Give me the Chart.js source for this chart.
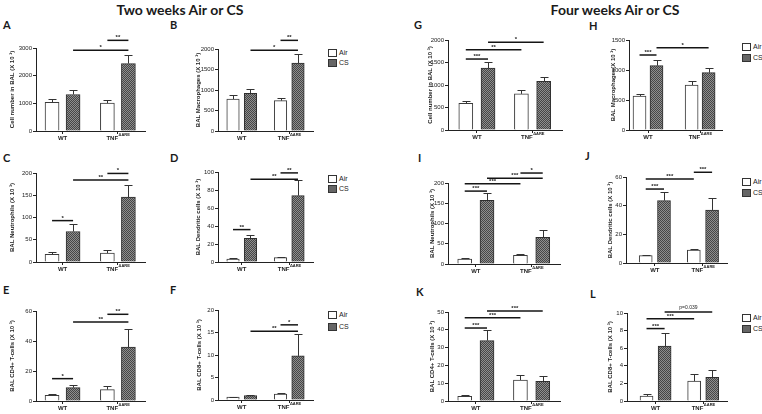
<!DOCTYPE html>
<html><head><meta charset="utf-8">
<script src="https://cdn.jsdelivr.net/npm/chart.js@4.4.1/dist/chart.umd.min.js"></script>
<style>
html,body{margin:0;padding:0;background:#fff;}
#root{position:relative;width:762px;height:414px;overflow:hidden;background:#fff;}
.title{position:absolute;font:bold 14px Lato,"Liberation Sans",sans-serif;color:#1a1a1a;white-space:nowrap;transform:translate(-50%,-50%);line-height:1;}
.letter{position:absolute;font:bold 11px Lato,"Liberation Sans",sans-serif;color:#1a1a1a;line-height:1;}
.leg{position:absolute;font:7px "Liberation Sans",Arial,sans-serif;color:#222;line-height:8px;height:8px;display:flex;align-items:center;white-space:nowrap;}
.leg .box{width:7px;height:6px;border:1px solid #333;margin-right:2px;background:#fff;}
.leg .box.cs{background:#666;}
canvas{position:absolute;}
</style></head><body><div id="root"></div>
<script>
// ---------- data ----------
const groups = ['WT', 'TNF'];
const tnfSup = 'ΔARE';
const seriesNames = ['Air', 'CS'];

// Two weeks
const A_air = [1036, 1008], A_airErr = [120, 96],  A_cs = [1320, 2437], A_csErr = [144, 323];
const B_air = [780, 740],   B_airErr = [106, 73],  B_cs = [919, 1658],  B_csErr = [114, 228];
const C_air = [17.4, 20],   C_airErr = [4.6, 7],   C_cs = [68.5, 146],  C_csErr = [16.5, 28];
const D_air = [3.3, 4.8],   D_airErr = [0.7, 0.7], D_cs = [26.3, 73.7], D_csErr = [3.7, 17.3];
const E_air = [3.8, 7.6],   E_airErr = [1.1, 2.2], E_cs = [8.9, 36],    E_csErr = [1.5, 12.2];
const F_air = [0.67, 1.33], F_airErr = [0.07, 0.27], F_cs = [0.96, 9.8], F_csErr = [0.14, 4.8];
// Four weeks
const G_air = [595, 803],   G_airErr = [52, 75],   G_cs = [1376, 1079], G_csErr = [127, 97];
const H_air = [567, 750],   H_airErr = [33, 67],   H_cs = [1072, 956],  H_csErr = [95, 72];
const I_air = [12.3, 21.3], I_airErr = [1.6, 2.5], I_cs = [157.4, 65.6], I_csErr = [18, 18];
const J_air = [5.1, 9.1],   J_airErr = [0.7, 0.9], J_cs = [43.5, 37],   J_csErr = [6.3, 8.1];
const K_air = [2.6, 11.8],  K_airErr = [0.6, 3],   K_cs = [33.9, 11],   K_csErr = [6.1, 3];
const L_air = [0.57, 2.26], L_airErr = [0.18, 0.8], L_cs = [6.23, 2.68], L_csErr = [1.54, 0.82];

// significance brackets: [from bar, to bar, height (axis units), label]
const A_sig = [['WC','TC',2917,'*'], ['TA','TC',3277,'**']];
const B_sig = [['WC','TC',1967,'*'], ['TA','TC',2211,'**']];
const C_sig = [['WA','WC',93,'*'], ['WC','TC',184,'**'], ['TA','TC',199,'*']];
const D_sig = [['WA','WC',36,'**'], ['WC','TC',92,'**'], ['TA','TC',99,'**']];
const E_sig = [['WA','WC',14.9,'*'], ['WC','TC',52.7,'**'], ['TA','TC',57.8,'**']];
const F_sig = [['WC','TC',15.3,'**'], ['TA','TC',16.7,'*']];
const G_sig = [['WA','WC',1577,'***'], ['WA','TA',1786,'**'], ['WC','TC',1949,'*']];
const H_sig = [['WA','WC',1250,'***'], ['WC','TC',1372,'*']];
const I_sig = [['WA','WC',180,'***'], ['WA','TA',198,'***'], ['WC','TC',212,'***'], ['TA','TC',224.6,'*']];
const J_sig = [['WA','WC',51.6,'***'], ['WA','TA',58.6,'***'], ['TA','TC',63.3,'***']];
const K_sig = [['WA','WC',41,'***'], ['WA','TA',46.8,'***'], ['WC','TC',50.6,'***']];
const L_sig = [['WA','WC',8.23,'***'], ['WA','TA',9.36,'***'], ['WC','TC',10.1,'p=0.039']];

// y axis ranges
const yMax  = {A:3000, B:2000, C:200, D:100, E:60, F:20, G:2000, H:1500, I:200, J:60, K:50, L:10};
const yStep = {A:1000, B:500,  C:50,  D:20,  E:20, F:5,  G:500,  H:500,  I:50,  J:20, K:10, L:2};

const yTitles = {
  A:'Cell number in BAL (X 10 ³)', B:'BAL Macrophages (X 10 ³)', C:'BAL Neutrophils (X 10 ³)',
  D:'BAL Dendritic cells (X 10 ³)', E:'BAL CD4+ T-cells (X 10 ³)', F:'BAL CD8+ T-cells (X 10 ³)',
  G:'Cell number in BAL (X 10 ³)', H:'BAL Macrophages(X 10 ³)', I:'BAL Neutrophils (X 10 ³)',
  J:'BAL Dendritic cells (X 10 ³)', K:'BAL CD4+ T-cells (X 10 ³)', L:'BAL CD8+ T-cells (X 10 ³)'
};

// ---------- layout (pixels) ----------
const layout = {
  A:{axisX:36, axisEnd:145, yTop:48, yBot:131, xMin:-0.48, xMax:1.49, off:0.19, thick:14, titleX:12},
  B:{axisX:218,axisEnd:313, yTop:49, yBot:131, xMin:-0.5, xMax:1.5, off:0.184, thick:12.5, titleX:198},
  C:{axisX:36, axisEnd:145, yTop:173,yBot:262, xMin:-0.48, xMax:1.49, off:0.19, thick:14, titleX:12},
  D:{axisX:218,axisEnd:313, yTop:172,yBot:262, xMin:-0.5, xMax:1.5, off:0.184, thick:12.5, titleX:198},
  E:{axisX:36, axisEnd:145, yTop:311,yBot:401, xMin:-0.48, xMax:1.49, off:0.19, thick:14, titleX:12},
  F:{axisX:218,axisEnd:313, yTop:310,yBot:400, xMin:-0.5, xMax:1.5, off:0.184, thick:12.5, titleX:199},
  G:{axisX:448,axisEnd:562, yTop:40, yBot:130, xMin:-0.52, xMax:1.53, off:0.2, thick:14, titleX:430},
  H:{axisX:629,axisEnd:722, yTop:40, yBot:130, xMin:-0.365, xMax:1.42, off:0.163, thick:13, titleX:613},
  I:{axisX:448,axisEnd:560, yTop:183,yBot:264, xMin:-0.5, xMax:1.51, off:0.2, thick:14, titleX:432},
  J:{axisX:626,axisEnd:727, yTop:177,yBot:263, xMin:-0.6, xMax:1.5, off:0.19, thick:13, titleX:610},
  K:{axisX:448,axisEnd:560, yTop:312,yBot:401, xMin:-0.5, xMax:1.51, off:0.2, thick:14, titleX:432},
  L:{axisX:627,axisEnd:727, yTop:313,yBot:401, xMin:-0.6, xMax:1.5, off:0.19, thick:13, titleX:610}
};

const letters = {A:[3,19],B:[170,19],C:[3,152],D:[170,152],E:[3,284],F:[170,284],
                 G:[414,19],H:[589,20],I:[418,152],J:[585,150],K:[416,286],L:[590,288]};
const legends = [[328,53,63],[328,179,189],[328,315,327],[742,47,58],[742,182,193],[742,318,329]];

const panels = [
  {key:'A', air:A_air, airErr:A_airErr, cs:A_cs, csErr:A_csErr, sig:A_sig},
  {key:'B', air:B_air, airErr:B_airErr, cs:B_cs, csErr:B_csErr, sig:B_sig},
  {key:'C', air:C_air, airErr:C_airErr, cs:C_cs, csErr:C_csErr, sig:C_sig},
  {key:'D', air:D_air, airErr:D_airErr, cs:D_cs, csErr:D_csErr, sig:D_sig},
  {key:'E', air:E_air, airErr:E_airErr, cs:E_cs, csErr:E_csErr, sig:E_sig},
  {key:'F', air:F_air, airErr:F_airErr, cs:F_cs, csErr:F_csErr, sig:F_sig},
  {key:'G', air:G_air, airErr:G_airErr, cs:G_cs, csErr:G_csErr, sig:G_sig},
  {key:'H', air:H_air, airErr:H_airErr, cs:H_cs, csErr:H_csErr, sig:H_sig},
  {key:'I', air:I_air, airErr:I_airErr, cs:I_cs, csErr:I_csErr, sig:I_sig},
  {key:'J', air:J_air, airErr:J_airErr, cs:J_cs, csErr:J_csErr, sig:J_sig},
  {key:'K', air:K_air, airErr:K_airErr, cs:K_cs, csErr:K_csErr, sig:K_sig},
  {key:'L', air:L_air, airErr:L_airErr, cs:L_cs, csErr:L_csErr, sig:L_sig}
];

// ---------- static text ----------
const root = document.getElementById('root');
function addDiv(cls, html, left, top){
  const d = document.createElement('div');
  d.className = cls; d.innerHTML = html;
  d.style.left = left + 'px'; d.style.top = top + 'px';
  root.appendChild(d); return d;
}
addDiv('title', 'Two weeks Air or CS', 180, 10);
addDiv('title', 'Four weeks Air or CS', 615, 10);
Object.keys(letters).forEach(k => addDiv('letter', k, letters[k][0], letters[k][1]));
legends.forEach(([x, y1, y2]) => {
  addDiv('leg', '<span class="box"></span>' + seriesNames[0], x, y1 - 4);
  addDiv('leg', '<span class="box cs"></span>' + seriesNames[1], x, y2 - 4);
});

// ---------- charts ----------
Chart.defaults.font.family = '"Liberation Sans", Arial, sans-serif';
const PAD_TOP = 26, PAD_RIGHT = 6, XH = 14, FONT_T = 6;

function makePattern(ctx){
  const c = document.createElement('canvas'); c.width = 4; c.height = 4;
  const g = c.getContext('2d');
  g.fillStyle = '#8e8e8e'; g.fillRect(0, 0, 4, 4);
  g.fillStyle = '#464646';
  for (let y = 0; y < 4; y++) for (let x = 0; x < 4; x++) if ((x + y) % 2 === 0) g.fillRect(x, y, 1, 1);
  return ctx.createPattern(c, 'repeat');
}

function overlay(p, g){
  return {
    id: 'overlay' + p.key,
    afterDatasetsDraw(chart){
      const ctx = chart.ctx, xs = chart.scales.x, ys = chart.scales.y;
      ctx.save();
      // error bars (upper)
      [[p.air, p.airErr, 0], [p.cs, p.csErr, 1]].forEach(([vals, errs, di]) => {
        const meta = chart.getDatasetMeta(di);
        vals.forEach((v, i) => {
          const bx = Math.round(meta.data[i].x) + 0.5;
          const y0 = ys.getPixelForValue(v), y1 = Math.round(ys.getPixelForValue(v + errs[i])) + 0.5;
          const cw = Math.round(g.thick * 0.3);
          ctx.strokeStyle = '#333'; ctx.lineWidth = 1;
          ctx.beginPath();
          ctx.moveTo(bx, y0); ctx.lineTo(bx, y1);
          ctx.moveTo(bx - cw, y1); ctx.lineTo(bx + cw, y1);
          ctx.stroke();
        });
      });
      // significance lines
      const pos = {WA: -g.off, WC: g.off, TA: 1 - g.off, TC: 1 + g.off};
      p.sig.forEach(([a, b, yv, txt]) => {
        const x1 = xs.getPixelForValue(pos[a]), x2 = xs.getPixelForValue(pos[b]);
        const y = ys.getPixelForValue(yv);
        ctx.strokeStyle = '#151515'; ctx.lineWidth = 1.5;
        ctx.beginPath(); ctx.moveTo(x1, y); ctx.lineTo(x2, y); ctx.stroke();
        ctx.fillStyle = '#222'; ctx.textAlign = 'center'; ctx.textBaseline = 'alphabetic';
        if (txt.startsWith('p')) { ctx.font = '5px "Liberation Sans"'; ctx.fillText(txt, (x1 + x2) / 2, y - 3); }
        else { ctx.font = 'bold 6px "Liberation Sans"'; ctx.fillText(txt, (x1 + x2) / 2, y - 1); }
      });
      // x category labels
      const ly = chart.chartArea.bottom + 7;
      ctx.fillStyle = '#222'; ctx.textBaseline = 'middle';
      ctx.font = 'bold 6px "Liberation Sans"'; ctx.textAlign = 'center';
      ctx.fillText(groups[0], xs.getPixelForValue(0), ly);
      const w1 = ctx.measureText(groups[1]).width;
      ctx.font = 'bold 4px "Liberation Sans"';
      const w2 = ctx.measureText(tnfSup).width;
      const sx = xs.getPixelForValue(1) - (w1 + w2) / 2;
      ctx.textAlign = 'left';
      ctx.font = 'bold 6px "Liberation Sans"';
      ctx.fillText(groups[1], sx, ly);
      ctx.font = 'bold 4px "Liberation Sans"';
      ctx.fillText(tnfSup, sx + w1 + 0.5, ly - 3);
      ctx.restore();
    }
  };
}

panels.forEach(p => {
  const g = layout[p.key];
  const left = g.titleX - FONT_T / 2;
  const yw = g.axisX - left;
  const top = g.yTop - PAD_TOP;
  const W = g.axisEnd - left + PAD_RIGHT;
  const H = g.yBot - top + XH;
  const cv = document.createElement('canvas');
  cv.width = W; cv.height = H;
  cv.style.left = left + 'px'; cv.style.top = top + 'px';
  root.appendChild(cv);
  const ctx = cv.getContext('2d');
  const pattern = makePattern(ctx);
  new Chart(ctx, {
    type: 'bar',
    data: {
      datasets: [
        {label: seriesNames[0], data: groups.map((_, i) => ({x: i - g.off, y: p.air[i]})),
         backgroundColor: '#ffffff', borderColor: '#3a3a3a', borderWidth: 1, barThickness: g.thick, grouped: false},
        {label: seriesNames[1], data: groups.map((_, i) => ({x: i + g.off, y: p.cs[i]})),
         backgroundColor: pattern, borderColor: '#2e2e2e', borderWidth: 1, barThickness: g.thick, grouped: false}
      ]
    },
    options: {
      responsive: false, animation: false, devicePixelRatio: 1,
      layout: {padding: {top: PAD_TOP, right: PAD_RIGHT, left: 0, bottom: 0}},
      plugins: {legend: {display: false}, tooltip: {enabled: false}},
      scales: {
        x: {
          type: 'linear', min: g.xMin, max: g.xMax, offset: false,
          afterBuildTicks: s => { s.ticks = [{value: 0}, {value: 1}]; },
          afterFit: s => { s.height = XH; },
          ticks: {display: false},
          grid: {display: true, offset: false, drawOnChartArea: false, drawTicks: true, tickLength: 3, color: '#222', lineWidth: 1},
          border: {display: true, color: '#222', width: 1}
        },
        y: {
          min: 0, max: yMax[p.key],
          afterFit: s => { s.width = yw; },
          ticks: {stepSize: yStep[p.key], padding: 1, color: '#222', font: {size: 6}, callback: v => String(v)},
          grid: {display: true, drawOnChartArea: false, drawTicks: true, tickLength: 3, color: '#222', lineWidth: 1},
          border: {display: true, color: '#222', width: 1},
          title: {display: true, text: yTitles[p.key], color: '#222', padding: 0,
                  font: {size: FONT_T, weight: 'bold', lineHeight: 1}}
        }
      }
    },
    plugins: [overlay(p, g)]
  });
});
</script></body></html>
